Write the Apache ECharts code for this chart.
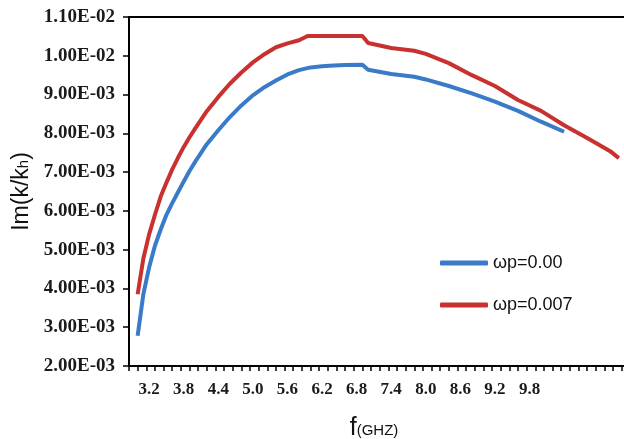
<!DOCTYPE html>
<html>
<head>
<meta charset="utf-8">
<script src="https://cdn.jsdelivr.net/npm/echarts@6/dist/echarts.min.js"></script>
<style>
html,body{margin:0;padding:0;background:#fff;}
#chart{width:624px;height:439px;}
</style>
</head>
<body>
<div id="chart"></div>
<script>
// frequency (GHz) and Im(k/kh) for each curve
const freqBlue = [3.0,3.1,3.2,3.3,3.4,3.5,3.6,3.7,3.8,3.9,4.0,4.2,4.4,4.6,4.8,5.0,5.2,5.4,5.6,5.8,6.0,6.2,6.4,6.6,6.9,7.0,7.4,7.8,8.0,8.4,8.8,9.2,9.6,10.0,10.4];
const imBlue = [0.00278,0.00386,0.00455,0.00510,0.00552,0.00590,0.00620,0.00648,0.00676,0.00703,0.00727,0.00772,0.00808,0.00842,0.00872,0.00898,0.00919,0.00936,0.00952,0.00963,0.00970,0.00973,0.00975,0.00976,0.00977,0.00964,0.00953,0.00946,0.00939,0.00922,0.00903,0.00882,0.00858,0.00830,0.00804];
const freqRed = [3.0,3.1,3.2,3.3,3.4,3.5,3.6,3.7,3.8,3.9,4.0,4.2,4.4,4.6,4.8,5.0,5.2,5.4,5.6,5.8,5.95,6.9,7.0,7.4,7.8,8.0,8.4,8.8,9.2,9.6,10.0,10.4,10.8,11.2,11.35];
const imRed = [0.00385,0.00478,0.00540,0.00590,0.00637,0.00673,0.00707,0.00737,0.00765,0.00790,0.00813,0.00857,0.00894,0.00928,0.00957,0.00983,0.01004,0.01022,0.01032,0.01040,0.01051,0.01051,0.01033,0.01020,0.01013,0.01005,0.00981,0.00950,0.00922,0.00886,0.00858,0.00821,0.00788,0.00754,0.00736];
const seriesNames = ['ωp=0.00','ωp=0.007'];
const xTickLabels = ['3.2','3.8','4.4','5.0','5.6','6.2','6.8','7.4','8.0','8.6','9.2','9.8'];
const yMin = 0.002, yMax = 0.011, yStep = 0.001;
const xMin = 2.85, xMax = 11.7, xMinorStep = 0.15;

function sci(v){
  const s = v.toExponential(2).split('e');
  const n = parseInt(s[1],10);
  return s[0] + 'E' + (n < 0 ? '-' : '+') + String(Math.abs(n)).padStart(2,'0');
}
const serifBold = {fontFamily:'Liberation Serif', fontWeight:'bold', color:'#1a1a1a'};

const chart = echarts.init(document.getElementById('chart'), null, {renderer:'canvas'});
chart.setOption({
  animation:false,
  backgroundColor:'#fff',
  grid:{left:129, top:17, width:510, height:349, show:true, borderColor:'#000', borderWidth:2,
        containLabel:false, outerBoundsMode:'none'},
  legend:{
    data:seriesNames, orient:'vertical', left:435, top:249,
    icon:'roundRect', itemWidth:48, itemHeight:5, itemGap:24,
    textStyle:{fontFamily:'Liberation Sans', fontSize:18, color:'#111'}
  },
  xAxis:[{
    type:'value', min:xMin, max:xMax, interval:xMinorStep,
    axisLine:{lineStyle:{color:'#000', width:2}},
    axisTick:{show:true, length:5, lineStyle:{color:'#000', width:1.5}},
    axisLabel:{show:false}, splitLine:{show:false},
    name:'{f|f}{g|(GHZ)}', nameLocation:'middle', nameGap:50,
    nameTextStyle:{padding:[0,20,0,0], rich:{
      f:{fontFamily:'Liberation Sans', fontSize:25, color:'#111'},
      g:{fontFamily:'Liberation Sans', fontSize:15, color:'#111', padding:[5,0,0,0]}
    }}
  },{
    type:'value', position:'bottom', min:xMin, max:xMax, interval:0.05,
    axisLine:{show:false}, axisTick:{show:false}, splitLine:{show:false},
    axisLabel:Object.assign({margin:15, fontSize:17, formatter:function(v){
      for (const t of xTickLabels){ if (Math.abs(parseFloat(t) - v) < 0.01) return t; }
      return '';
    }}, serifBold)
  }],
  yAxis:{
    type:'value', min:yMin, max:yMax, interval:yStep,
    axisLine:{show:true, lineStyle:{color:'#000', width:2}},
    axisTick:{show:true, length:6, lineStyle:{color:'#000', width:1.5}},
    splitLine:{show:false},
    axisLabel:Object.assign({margin:14, fontSize:19, formatter:sci}, serifBold),
    name:'{a|Im(k/k}{b|h}{a|)}', nameLocation:'middle', nameGap:96, nameRotate:90,
    nameTextStyle:{rich:{
      a:{fontFamily:'Liberation Sans', fontSize:23, color:'#111'},
      b:{fontFamily:'Liberation Sans', fontSize:15, color:'#111', padding:[6,0,0,0]}
    }}
  },
  series:[{
    name:seriesNames[0], type:'line', showSymbol:false, symbol:'none',
    data:freqBlue.map((f,i)=>[f, imBlue[i]]),
    lineStyle:{color:'#3a7bc8', width:4}, itemStyle:{color:'#3a7bc8'}
  },{
    name:seriesNames[1], type:'line', showSymbol:false, symbol:'none',
    data:freqRed.map((f,i)=>[f, imRed[i]]),
    lineStyle:{color:'#c8312f', width:4}, itemStyle:{color:'#c8312f'}
  }]
});
</script>
</body>
</html>
